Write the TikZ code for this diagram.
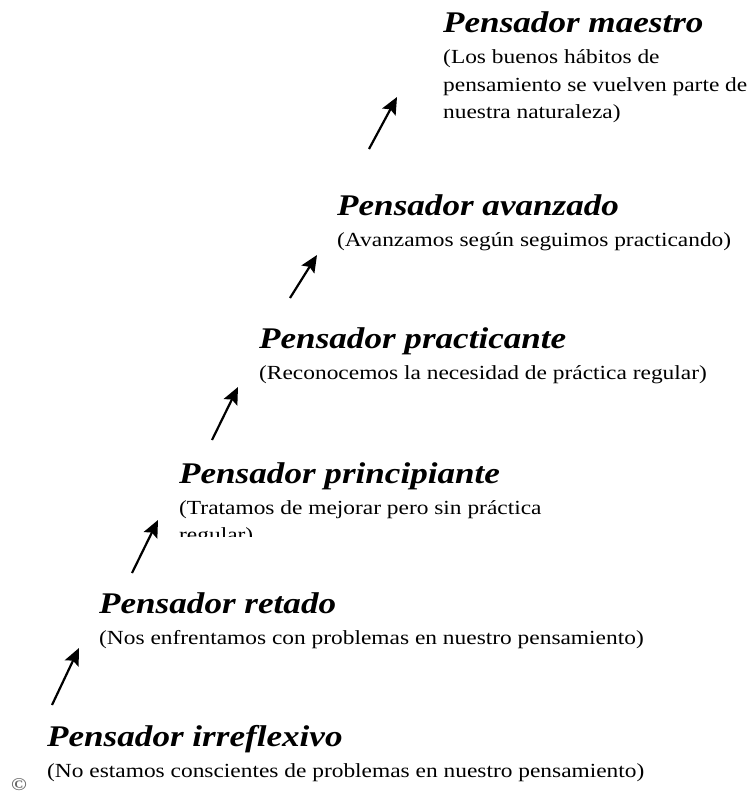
\documentclass[tikz,border=0pt]{standalone}
\usepackage{fontspec}
\setmainfont{Liberation Serif}[FakeStretch=1.17]
\usetikzlibrary{calc}
\usetikzlibrary{arrows.meta}

\tikzset{
 nivel/.style={anchor=base west, inner sep=0, font=\fontsize{30}{36}\selectfont\bfseries\itshape},
 nota/.style={anchor=base west, inner sep=0, align=left, font=\fontsize{20}{27.5}\selectfont},
 flecha/.style={line width=2.2pt, -{Stealth[length=17pt,width=15pt,inset=3pt]}},
}

\begin{document}
\begin{tikzpicture}[x=1pt, y=-1pt]
\useasboundingbox (0,0) rectangle (754,794);
% niveles, de arriba hacia abajo (en notas de varias lineas la base es la ultima)
\node[nivel] (maestro) at (443,33) {Pensador maestro};
\node[nota] (nmaestro) at ($(maestro.base west)+(0,86)$) {(Los buenos hábitos de\\pensamiento se vuelven parte de\\nuestra naturaleza)};
\node[nivel] (avanzado) at (337,215) {Pensador avanzado};
\node[nota] (navanzado) at ($(avanzado.base west)+(0,31)$) {(Avanzamos según seguimos practicando)};
\node[nivel] (practicante) at (259,348) {Pensador practicante};
\node[nota] (npracticante) at ($(practicante.base west)+(0,31)$) {(Reconocemos la necesidad de práctica regular)};
\node[nivel] (principiante) at (179,483) {Pensador principiante};
\begin{scope}
 \clip (0,0) rectangle (754,536);
 \node[nota] (nprincipiante) at ($(principiante.base west)+(0,58.5)$) {(Tratamos de mejorar pero sin práctica\\regular)};
\end{scope}
\node[nivel] (retado) at (99,613) {Pensador retado};
\node[nota] (nretado) at ($(retado.base west)+(0,31)$) {(Nos enfrentamos con problemas en nuestro pensamiento)};
\node[nivel] (irreflexivo) at (47,746) {Pensador irreflexivo};
\node[nota] (nirreflexivo) at ($(irreflexivo.base west)+(0,31)$) {(No estamos conscientes de problemas en nuestro pensamiento)};
\node[inner sep=0, font=\fontsize{18}{20}\selectfont\bfseries, text=black!60] (copia) at (19,785) {\textcopyright};
% flechas
\coordinate (a1) at (369,149); \coordinate (b1) at (397,97);
\coordinate (a2) at (290,298); \coordinate (b2) at (317,255);
\coordinate (a3) at (212,440); \coordinate (b3) at (238,387);
\coordinate (a4) at (132,573); \coordinate (b4) at (158,520);
\coordinate (a5) at (52,705); \coordinate (b5) at (79,648);
\foreach \i in {1,...,5}{
 \draw[flecha] (a\i)--(b\i);
}
\end{tikzpicture}
\end{document}
